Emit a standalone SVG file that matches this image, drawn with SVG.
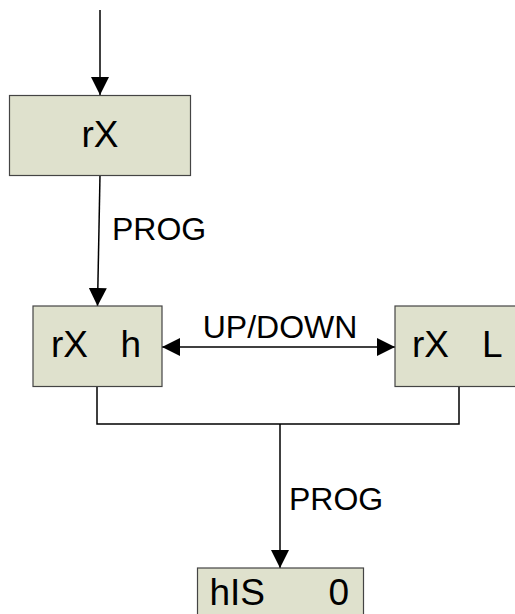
<svg xmlns="http://www.w3.org/2000/svg" width="515" height="614" viewBox="0 0 515 614">
<style>
.box{fill:#dfe1cd;stroke:#444;stroke-width:1.2}
.bt{font-family:"Liberation Sans",Arial,sans-serif;font-size:37px;fill:#000}
.lbl{font-family:"Liberation Sans",Arial,sans-serif;font-size:32px;fill:#000}
.ln{fill:none;stroke:#000;stroke-width:1.5}
</style>
<defs>
<marker id="ah" markerUnits="userSpaceOnUse" markerWidth="18" markerHeight="18" viewBox="0 0 16 16" refX="16" refY="8" orient="auto-start-reverse">
<path d="M0,0 L16,8 L0,16 z" fill="#000"/>
</marker>
</defs>
<rect width="515" height="614" fill="#fff"/>
<g id="connectors">
<line class="ln" x1="100" y1="10" x2="100" y2="95" marker-end="url(#ah)"/>
<line class="ln" x1="100" y1="175" x2="97.5" y2="306" marker-end="url(#ah)"/>
<line class="ln" x1="162" y1="347" x2="395" y2="347" marker-start="url(#ah)" marker-end="url(#ah)"/>
<polyline class="ln" points="97,387 97,424 459,424 459,386"/>
<line class="ln" x1="280" y1="424" x2="280" y2="568" marker-end="url(#ah)"/>
<text class="lbl" x="112" y="240">PROG</text>
<text class="lbl" x="280" y="338" text-anchor="middle">UP/DOWN</text>
<text class="lbl" x="289" y="510">PROG</text>
</g>
<g id="node-rX">
<rect class="box" x="9.5" y="95.5" width="181" height="80"/>
<text class="bt" x="100" y="147" text-anchor="middle">rX</text>
</g>
<g id="node-rXh">
<rect class="box" x="33" y="306" width="129" height="80.5"/>
<text class="bt" x="51" y="357">rX <tspan x="120.5">h</tspan></text>
</g>
<g id="node-rXL">
<rect class="box" x="395" y="306" width="129" height="80.5"/>
<text class="bt" x="412" y="357">rX <tspan x="482">L</tspan></text>
</g>
<g id="node-hIS">
<rect class="box" x="197.5" y="568" width="166" height="80"/>
<text class="bt" x="209.5" y="605">hIS <tspan x="328.5">0</tspan></text>
</g>
</svg>
